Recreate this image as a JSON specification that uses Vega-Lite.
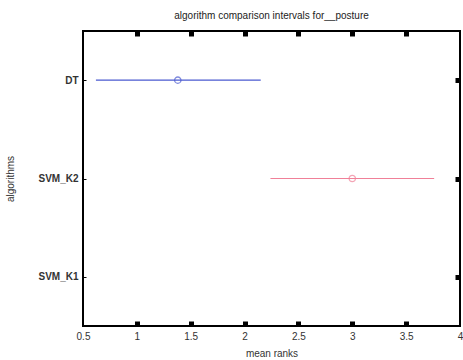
{
  "$schema": "https://vega.github.io/schema/vega-lite/v6.json",
  "width": 377,
  "height": 295,
  "autosize": "none",
  "padding": {"left": 83, "top": 31, "right": 3, "bottom": 34},
  "background": "white",
  "title": {"text": "algorithm comparison intervals for__posture", "fontSize": 10, "fontWeight": "normal", "font": "Liberation Sans", "color": "#222", "offset": 8, "anchor": "middle"},
  "config": {
    "view": {"stroke": "black", "strokeWidth": 2},
    "axis": {"labelFont": "Liberation Sans", "titleFont": "Liberation Sans", "labelFontSize": 10, "titleFontSize": 10, "titleFontWeight": "normal", "labelColor": "#333", "titleColor": "#333", "grid": false, "domain": false, "tickColor": "black"}
  },
  "data": {"values": [
    {"algorithm": "DT", "lo": 0.62, "mean": 1.38, "hi": 2.15},
    {"algorithm": "SVM_K2", "lo": 2.24, "mean": 3.0, "hi": 3.76}
  ]},
  "layer": [
    {
      "mark": {"type": "rule", "strokeWidth": 1.2},
      "encoding": {
        "x": {"field": "lo", "type": "quantitative", "scale": {"domain": [0.5, 4], "nice": false, "zero": false},
              "axis": {"orient": "bottom", "title": "mean ranks", "format": "~g", "values": [0.5, 1, 1.5, 2, 2.5, 3, 3.5, 4], "tickSize": -5, "tickWidth": 5, "tickOpacity": {"condition": {"test": "datum.value == 0.5 || datum.value == 4", "value": 0}, "value": 1}, "labelPadding": 10, "titleY": 22, "labelFlush": false}},
        "x2": {"field": "hi"},
        "y": {"field": "algorithm", "type": "nominal", "scale": {"type": "point", "padding": 0.5, "domain": ["DT", "SVM_K2", "SVM_K1"]},
              "axis": {"orient": "left", "title": "algorithms", "tickSize": -3, "tickWidth": 1, "labelPadding": 8, "labelFontWeight": "bold", "titlePadding": 22}},
        "color": {"field": "algorithm", "type": "nominal", "scale": {"domain": ["DT", "SVM_K2"], "range": ["#4a5ad0", "#f08098"]}, "legend": null}
      }
    },
    {
      "mark": {"type": "point", "shape": "circle", "size": 40, "strokeWidth": 1.3, "filled": false},
      "encoding": {
        "x": {"field": "mean", "type": "quantitative", "scale": {"domain": [0.5, 4], "nice": false, "zero": false},
              "axis": {"orient": "top", "title": null, "labels": false, "values": [1, 1.5, 2, 2.5, 3, 3.5], "tickSize": -5, "tickWidth": 5}},
        "y": {"field": "algorithm", "type": "nominal", "scale": {"type": "point", "padding": 0.5, "domain": ["DT", "SVM_K2", "SVM_K1"]},
              "axis": {"orient": "right", "title": null, "labels": false, "tickSize": -5, "tickWidth": 5}},
        "color": {"field": "algorithm", "type": "nominal", "legend": null}
      }
    }
  ],
  "resolve": {"axis": {"x": "independent", "y": "independent"}}
}
